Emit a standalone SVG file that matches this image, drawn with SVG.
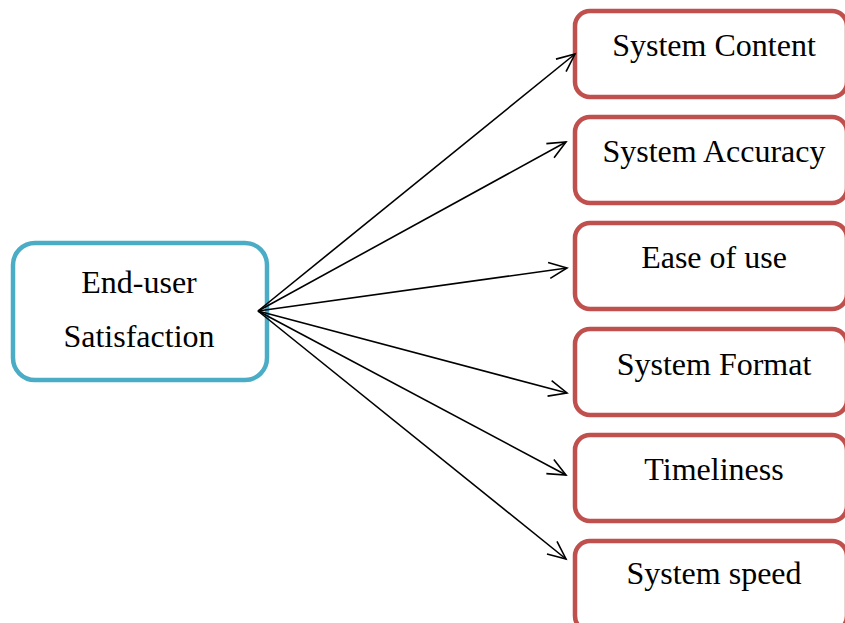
<svg xmlns="http://www.w3.org/2000/svg" width="845" height="623" viewBox="0 0 845 623">
<style>
.t{font-family:"Liberation Serif","Times New Roman",serif;font-size:32px;fill:#000;text-anchor:middle}
.r{fill:#fff;stroke:#c0504d;stroke-width:4.5}
.b{fill:#fff;stroke:#4bacc6;stroke-width:4.5}
.c{stroke:#000;stroke-width:1.6;fill:none;marker-end:url(#ah)}
</style>
<defs>
<marker id="ah" markerUnits="userSpaceOnUse" markerWidth="24" markerHeight="24" viewBox="-20 -10 24 20" refX="0" refY="0" orient="auto">
<path d="M-18,-8 L0,0 L-18,8" fill="none" stroke="#000" stroke-width="1.6"/>
</marker>
</defs>
<g id="n0"><rect class="b" x="13" y="243" width="254" height="137" rx="22"/><text class="t" x="139" y="293">End-user</text><text class="t" x="139" y="347">Satisfaction</text></g>
<g id="n1"><rect class="r" x="575" y="11" width="272" height="86" rx="15"/><text class="t" x="714" y="56">System Content</text></g>
<g id="n2"><rect class="r" x="575" y="117" width="272" height="86" rx="15"/><text class="t" x="714" y="162">System Accuracy</text></g>
<g id="n3"><rect class="r" x="575" y="223" width="272" height="86" rx="15"/><text class="t" x="714" y="268">Ease of use</text></g>
<g id="n4"><rect class="r" x="575" y="329" width="272" height="86" rx="15"/><text class="t" x="714" y="375">System Format</text></g>
<g id="n5"><rect class="r" x="575" y="435" width="272" height="86" rx="15"/><text class="t" x="714" y="480">Timeliness</text></g>
<g id="n6"><rect class="r" x="575" y="541" width="272" height="90" rx="15"/><text class="t" x="714" y="584">System speed</text></g>
<g id="connectors">
<line class="c" x1="258" y1="311" x2="575" y2="54"/>
<line class="c" x1="258" y1="311" x2="566" y2="142"/>
<line class="c" x1="258" y1="311" x2="567" y2="268"/>
<line class="c" x1="258" y1="311" x2="567" y2="393"/>
<line class="c" x1="258" y1="311" x2="566" y2="475"/>
<line class="c" x1="258" y1="311" x2="566" y2="559"/>
</g>
</svg>
